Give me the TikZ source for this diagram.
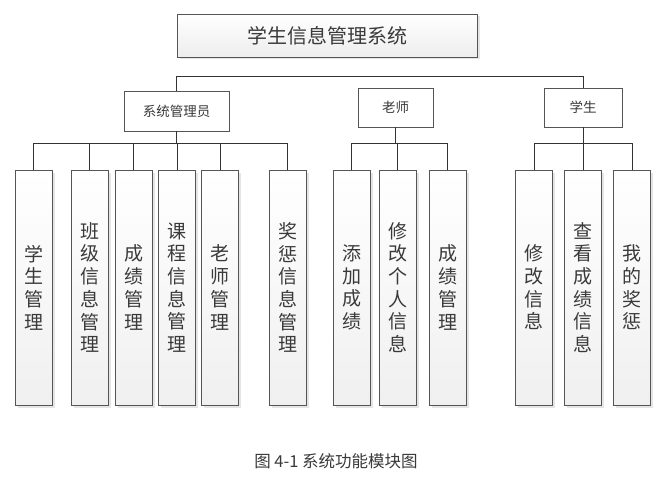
\documentclass[tikz,border=0pt]{standalone}
\usepackage{fontspec}
\setmainfont{Noto Sans CJK SC}
\usetikzlibrary{shadows}
\definecolor{boxgray}{HTML}{555555}
\definecolor{linegray}{HTML}{333333}
\definecolor{textgray}{HTML}{3A3A3A}
\begin{document}
\begin{tikzpicture}[x=1pt,y=-1pt,
  leaf/.style={draw=boxgray, line width=0.9pt, top color=white, bottom color=black!6,
    minimum width=37pt, minimum height=235pt, inner sep=0pt, align=center,
    font=\fontsize{19}{22.7}\selectfont, text=textgray,
    drop shadow={shadow xshift=2.5pt, shadow yshift=-2.5pt, fill=black!10, opacity=1}},
  mid/.style={draw=boxgray, line width=0.9pt, fill=white, inner sep=0pt,
    font=\fontsize{13.5}{16}\selectfont, text=textgray},
  titlebox/.style={draw=boxgray, line width=0.9pt, top color=white, bottom color=black!7,
    minimum width=300pt, minimum height=43pt, inner sep=0pt,
    font=\fontsize{20}{24}\selectfont, text=textgray,
    drop shadow={shadow xshift=2.5pt, shadow yshift=-2.5pt, fill=black!10, opacity=1}},
  conn/.style={draw=linegray, line width=1pt}
]
\useasboundingbox[fill=white] (0,0) rectangle (663,481);

\node[titlebox] (title) at (327,35.5) {学生信息管理系统};

\node[mid, minimum width=105pt, minimum height=40pt] (admin) at (176.5,111) {系统管理员};
\node[mid, minimum width=75pt, minimum height=39pt] (teacher) at (395.5,107.5) {老师};
\node[mid, minimum width=78pt, minimum height=39pt] (student) at (583,107.5) {学生};

\node[leaf] (a1) at (33.5,287.5) {学\\生\\管\\理};
\node[leaf] (a2) at (89.5,287.5) {班\\级\\信\\息\\管\\理};
\node[leaf] (a3) at (133.5,287.5) {成\\绩\\管\\理};
\node[leaf] (a4) at (177,287.5) {课\\程\\信\\息\\管\\理};
\node[leaf] (a5) at (220,287.5) {老\\师\\管\\理};
\node[leaf] (a6) at (287.5,287.5) {奖\\惩\\信\\息\\管\\理};

\node[leaf] (t1) at (351.5,287.5) {添\\加\\成\\绩};
\node[leaf] (t2) at (397.5,287.5) {修\\改\\个\\人\\信\\息};
\node[leaf] (t3) at (447.5,287.5) {成\\绩\\管\\理};

\node[leaf] (s1) at (534,287.5) {修\\改\\信\\息};
\node[leaf] (s2) at (583,287.5) {查\\看\\成\\绩\\信\\息};
\node[leaf] (s3) at (632,287.5) {我\\的\\奖\\惩};

% top connector
\draw[conn] (admin.north) -- (admin.north |- 0,77) -| (student.north);

% buses
\foreach \c in {a1,a2,a3,a4,a5,a6}
  \draw[conn] (admin.south) -- (admin.south |- 0,143.5) -| (\c.north);
\foreach \c in {t1,t2,t3}
  \draw[conn] (teacher.south) -- (teacher.south |- 0,143.5) -| (\c.north);
\foreach \c in {s1,s2,s3}
  \draw[conn] (student.south) -- (student.south |- 0,143.5) -| (\c.north);

\node[font=\fontsize{16.5}{19}\selectfont, text=textgray] (cap) at (336,461) {图 4-1 系统功能模块图};
\end{tikzpicture}
\end{document}
